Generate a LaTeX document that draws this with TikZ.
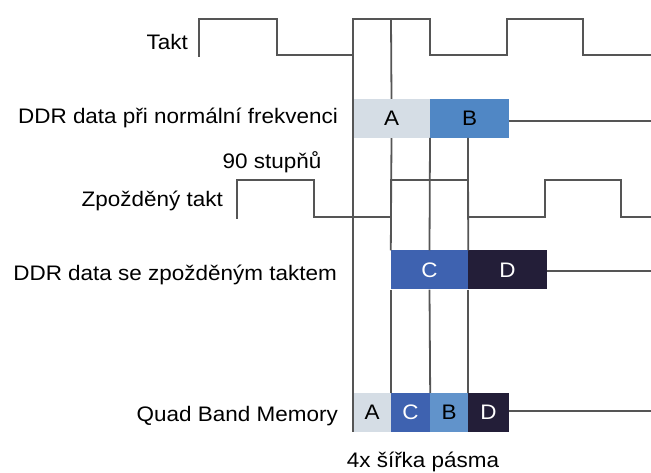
\documentclass[tikz,border=0pt]{standalone}
\usepackage{fontspec}
\setmainfont[FakeStretch=1.07]{Liberation Sans}
\definecolor{wave}{HTML}{555555}
\definecolor{cA}{HTML}{D5DDE5}
\definecolor{cB}{HTML}{5087C5}
\definecolor{cC}{HTML}{3E62B0}
\definecolor{cD}{HTML}{231E38}
\begin{document}
\begin{tikzpicture}[x=1pt,y=-1pt,
  every node/.style={font=\fontsize{21}{24}\selectfont},
  lab/.style={anchor=east,inner sep=0pt},
  sig/.style={draw=wave,line width=2pt},
  grid/.style={draw=wave,line width=1.8pt},
  dbox/.style={draw=none,inner sep=0pt,minimum height=39pt},
  boxA/.style={dbox,fill=cA,text=black},
  boxB/.style={dbox,fill=cB,text=black},
  boxC/.style={dbox,fill=cC,text=white},
  boxD/.style={dbox,fill=cD,text=white}]
\useasboundingbox (0,0) rectangle (651,473);
% labels
\node[lab] (lTakt) at (188,42) {Takt};
\node[lab] (lDDR) at (338,118) {DDR data při normální frekvenci};
\node[anchor=center,inner sep=0pt] (l90) at (272,162) {90 stupňů};
\node[lab] (lZt) at (223,201) {Zpožděný takt};
\node[lab] (lDDR2) at (337,275) {DDR data se zpožděným taktem};
\node[lab] (lQBM) at (338,416) {Quad Band Memory};
\node[anchor=center,inner sep=0pt] (l4x) at (423,462) {4x šířka pásma};
% clocks
\draw[sig,line join=miter] (199,57) -- (199,19) -- (277,19) -- (277,55) -- (353,55) -- (353,19) -- (430,19) -- (430,55) -- (507,55) -- (507,19) -- (583,19) -- (583,55) -- (651,55);
\draw[sig,line join=miter] (237,219) -- (237,180) -- (314,180) -- (314,217) -- (391,217) -- (391,180) -- (468,180) -- (468,217) -- (545,217) -- (545,180) -- (621,180) -- (621,217) -- (651,217);
% boxes row AB
\node[boxA,minimum width=77pt] (a1) at (391.5,118.5) {A};
\node[boxB,minimum width=79pt] (b1) at (469.5,118.5) {B};
% boxes row CD
\node[boxC,minimum width=77pt] (c2) at (429.5,270) {C};
\node[boxD,minimum width=79pt] (d2) at (507.5,270) {D};
% QBM
\node[boxA,minimum width=38pt] (a3) at (372,412.5) {A};
\node[boxC,minimum width=39pt] (c3) at (410.5,412.5) {C};
\node[boxB,minimum width=38pt,fill=cB!90!white] (b3) at (449,412.5) {B};
\node[boxD,minimum width=41pt] (d3) at (488.5,412.5) {D};
% trailing lines
\coordinate (e1) at (651,121);
\coordinate (e2) at (651,271);
\coordinate (e3) at (651,411);
\draw[sig] (b1.east |- e1) -- (e1);
\draw[sig] (d2.east |- e2) -- (e2);
\draw[sig] (d3.east |- e3) -- (e3);
% vertical timing lines
\draw[grid] (353,19) -- (353,432);
\draw[grid] (391,19) -- (a1.north);
\draw[grid] (a1.south) -- (c2.north west);
\draw[grid] (c2.south west) -- (c3.north west);
\draw[grid] (430,138) -- (c2.north);
\draw[grid] (c2.south) -- (c3.north east);
\draw[grid] (468,138) -- (c2.north east);
\draw[grid] (c2.south east) -- (b3.north east);
\end{tikzpicture}
\end{document}
